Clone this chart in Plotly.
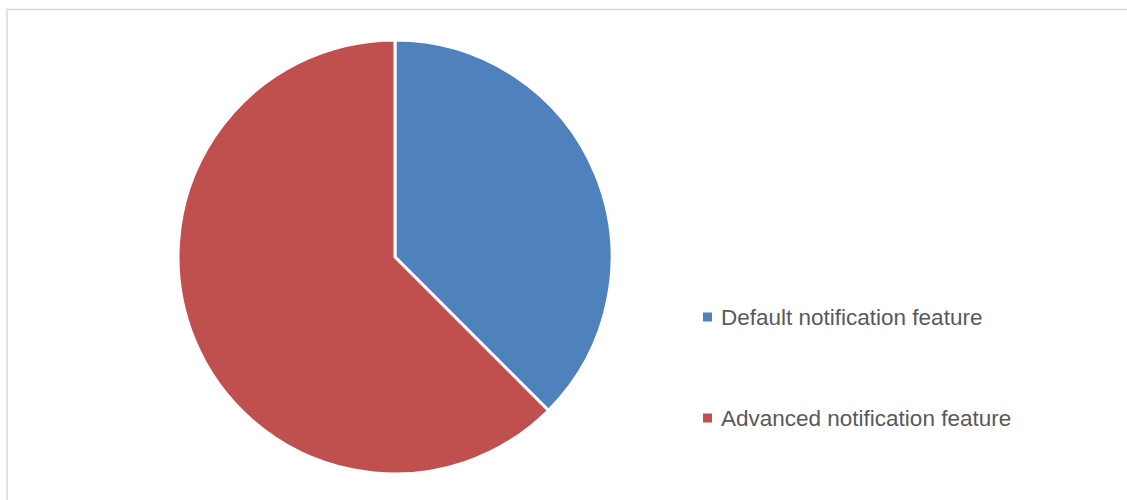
import plotly.graph_objects as go

# Share of users by notification feature
categories = ["Default notification feature", "Advanced notification feature"]
shares = [37.5, 62.5]
colors = ["#4F81BD", "#C0504D"]

W, H = 1127, 500
cx, cy, r = 395, 257, 217

fig = go.Figure(
    go.Pie(
        labels=categories,
        values=shares,
        sort=False,
        direction="clockwise",
        rotation=0,
        textinfo="none",
        hoverinfo="label+percent",
        marker=dict(colors=colors, line=dict(color="white", width=3)),
        domain=dict(x=[(cx - r) / W, (cx + r) / W], y=[(H - cy - r) / H, (H - cy + r) / H]),
        showlegend=False,
    )
)

# Hand-placed legend: colour square + label per category
legend_x = 703
legend_rows = [317, 418]
shapes = [
    dict(type="rect", xref="paper", yref="paper", x0=7 / W, x1=1.01, y0=-0.01, y1=(H - 9.5) / H,
         line=dict(color="#D9D9D9", width=1.5), fillcolor="rgba(0,0,0,0)", layer="below")
]
annotations = []
for name, col, yrow in zip(categories, colors, legend_rows):
    shapes.append(dict(type="rect", xref="paper", yref="paper",
                       x0=legend_x / W, x1=(legend_x + 9) / W,
                       y0=(H - yrow - 4.5) / H, y1=(H - yrow + 4.5) / H,
                       line=dict(width=0), fillcolor=col))
    annotations.append(dict(xref="paper", yref="paper", x=(legend_x + 16) / W, y=(H - yrow) / H,
                            xanchor="left", yanchor="middle", showarrow=False, text=name,
                            font=dict(family="Liberation Sans, Arial, sans-serif", size=22.5, color="#595959")))

fig.update_layout(
    width=W, height=H,
    margin=dict(l=0, r=0, t=0, b=0),
    paper_bgcolor="white", plot_bgcolor="white",
    shapes=shapes, annotations=annotations,
)

fig.write_html("out.html")
